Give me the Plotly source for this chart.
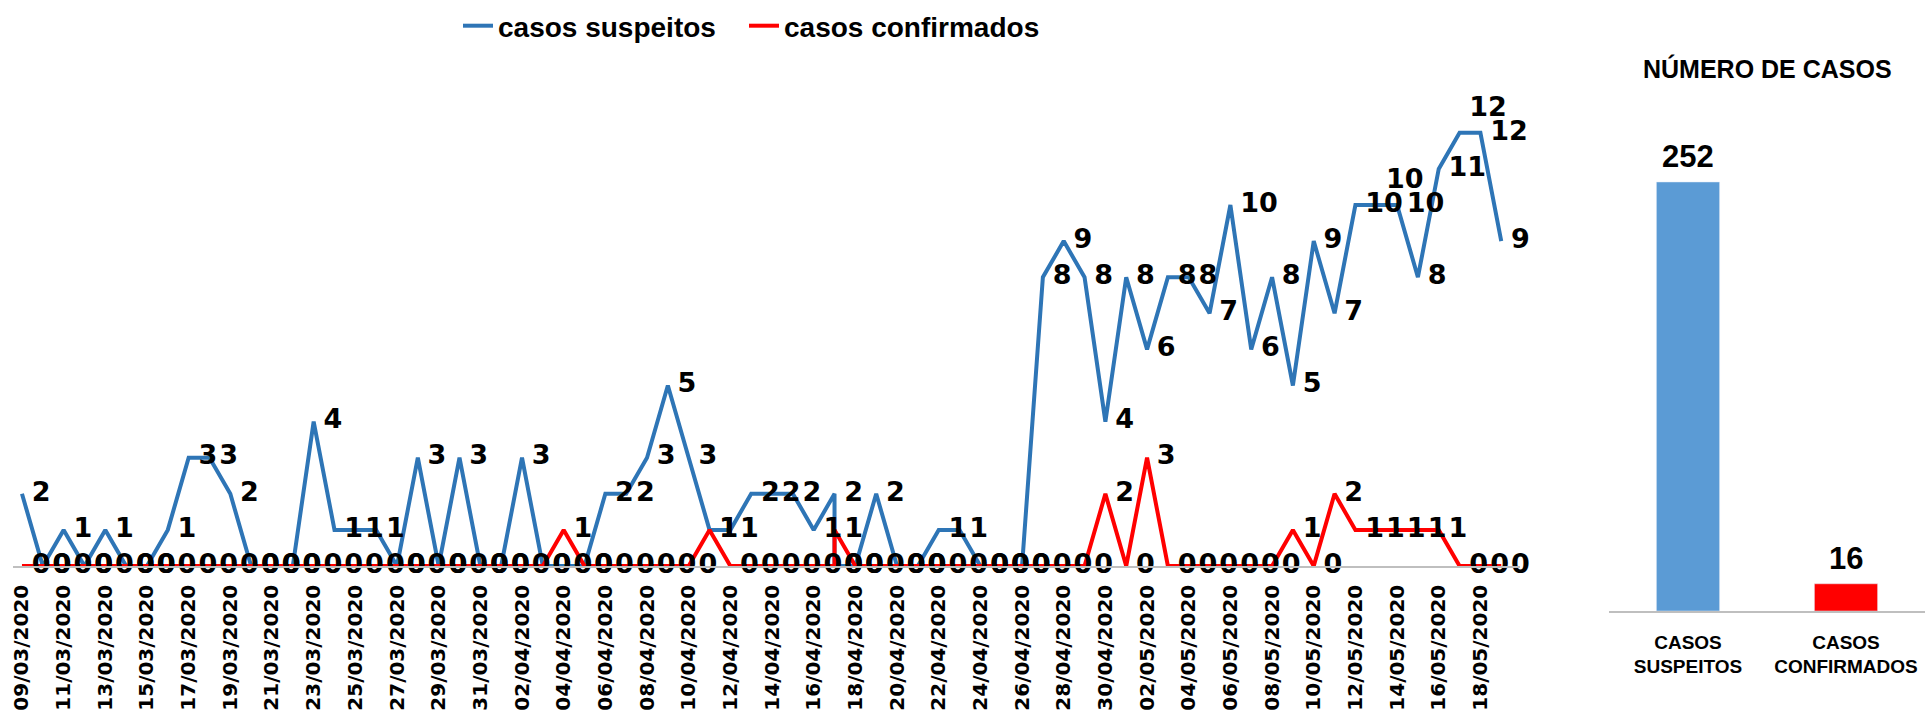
import plotly.graph_objects as go

# ---------------- data ----------------
datas = [
    "2020-03-09", "2020-03-10", "2020-03-11", "2020-03-12", "2020-03-13", "2020-03-14",
    "2020-03-15", "2020-03-16", "2020-03-17", "2020-03-18", "2020-03-19", "2020-03-20",
    "2020-03-21", "2020-03-22", "2020-03-23", "2020-03-24", "2020-03-25", "2020-03-26",
    "2020-03-27", "2020-03-28", "2020-03-29", "2020-03-30", "2020-03-31",
    "2020-04-01", "2020-04-02", "2020-04-03", "2020-04-04", "2020-04-05", "2020-04-06",
    "2020-04-07", "2020-04-08", "2020-04-09", "2020-04-10", "2020-04-11", "2020-04-12",
    "2020-04-13", "2020-04-14", "2020-04-15", "2020-04-16", "2020-04-17", "2020-04-17",
    "2020-04-18", "2020-04-19", "2020-04-20", "2020-04-21", "2020-04-22", "2020-04-23",
    "2020-04-24", "2020-04-25", "2020-04-26", "2020-04-27", "2020-04-28", "2020-04-29",
    "2020-04-30",
    "2020-05-01", "2020-05-02", "2020-05-03", "2020-05-04", "2020-05-05", "2020-05-06",
    "2020-05-07", "2020-05-08", "2020-05-09", "2020-05-10", "2020-05-11", "2020-05-12",
    "2020-05-13", "2020-05-14", "2020-05-15", "2020-05-16", "2020-05-17", "2020-05-18",
    "2020-05-19",
]

casos_suspeitos = [
    2, 0, 1, 0, 1, 0, 0, 1, 3, 3, 2, 0, 0, 0, 4, 1, 1, 1, 0, 3, 0, 3, 0, 0, 3, 0,
    0, 0, 2, 2, 3, 5, 3, 1, 1, 2, 2, 2, 1,
    2, 0,
    0, 2, 0, 0, 1, 1, 0, 0, 0,
    8, 9, 8, 4, 8, 6, 8, 8, 7, 10, 6, 8, 5, 9, 7, 10, 10, 10, 8, 11, 12, 12, 9,
]

casos_confirmados = [
    0, 0, 0, 0, 0, 0, 0, 0, 0, 0, 0, 0, 0, 0, 0, 0, 0, 0, 0, 0, 0, 0, 0, 0, 0, 0,
    1, 0, 0, 0, 0, 0, 0, 1, 0, 0, 0, 0, 0,
    0, 1,
    0, 0, 0, 0, 0, 0, 0, 0, 0,
    0, 0, 0, 2, 0, 3, 0, 0, 0, 0, 0, 0, 1, 0, 2, 1, 1, 1, 1, 1, 0, 0, 0,
]

rotulos_eixo = [
    "09/03/2020", "11/03/2020", "13/03/2020", "15/03/2020", "17/03/2020", "19/03/2020",
    "21/03/2020", "23/03/2020", "25/03/2020", "27/03/2020", "29/03/2020", "31/03/2020",
    "02/04/2020", "04/04/2020", "06/04/2020", "08/04/2020", "10/04/2020", "12/04/2020",
    "14/04/2020", "16/04/2020", "18/04/2020", "20/04/2020", "22/04/2020", "24/04/2020",
    "26/04/2020", "28/04/2020", "30/04/2020", "02/05/2020", "04/05/2020", "06/05/2020",
    "08/05/2020", "10/05/2020", "12/05/2020", "14/05/2020", "16/05/2020", "18/05/2020",
]

categorias_total = ["CASOS<br>SUSPEITOS", "CASOS<br>CONFIRMADOS"]
totais = [252, 16]

# ---------------- styling ----------------
W, H = 1927, 714
AZUL = "#2E75B6"
VERMELHO = "#FF0000"
AZUL_BARRA = "#5B9BD5"


def fx(p):
    return p / W


def fy(p):
    return 1 - p / H


tickvals = [f"{s[6:10]}-{s[3:5]}-{s[0:2]}" for s in rotulos_eixo]

pos_susp = ["middle right"] * len(casos_suspeitos)
pos_susp[66] = "top right"
pos_susp[70] = "top right"

label_font = dict(family="DejaVu Sans", size=27, color="black", weight="bold")
legend_font = dict(family="Liberation Sans", size=28, color="black", weight="bold")

fig = go.Figure()

fig.add_trace(go.Scatter(
    x=datas, y=casos_suspeitos, mode="lines", name="casos suspeitos",
    line=dict(color=AZUL, width=4), xaxis="x", yaxis="y", cliponaxis=False,
    hoverinfo="skip", legend="legend",
))
fig.add_trace(go.Scatter(
    x=datas, y=casos_confirmados, mode="lines", name="casos confirmados",
    line=dict(color=VERMELHO, width=4), xaxis="x", yaxis="y", cliponaxis=False,
    hoverinfo="skip", legend="legend2",
))
fig.add_trace(go.Scatter(
    x=datas, y=casos_suspeitos, mode="markers+text", showlegend=False,
    marker=dict(size=14, color="rgba(0,0,0,0)"),
    text=[str(v) for v in casos_suspeitos], textposition=pos_susp,
    textfont=label_font, xaxis="x", yaxis="y", cliponaxis=False, hoverinfo="skip",
))
fig.add_trace(go.Scatter(
    x=datas, y=casos_confirmados, mode="markers+text", showlegend=False,
    marker=dict(size=14, color="rgba(0,0,0,0)"),
    text=[str(v) for v in casos_confirmados], textposition="middle right",
    textfont=label_font, xaxis="x", yaxis="y", cliponaxis=False, hoverinfo="skip",
))

fig.add_trace(go.Bar(
    x=categorias_total, y=totais, marker_color=[AZUL_BARRA, VERMELHO], width=0.4,
    xaxis="x2", yaxis="y2", showlegend=False, hoverinfo="skip",
))

annotations = []
for c, v in zip(categorias_total, totais):
    annotations.append(dict(
        x=c, y=v, xref="x2", yref="y2", text=str(v), showarrow=False,
        xanchor="center", yanchor="bottom", yshift=6,
        font=dict(family="Liberation Sans", size=31, color="black", weight="bold"),
    ))
annotations.append(dict(
    x=fx(1767), y=fy(68), xref="paper", yref="paper", text="NÚMERO DE CASOS",
    showarrow=False, xanchor="center", yanchor="middle",
    font=dict(family="Liberation Sans", size=25, color="black", weight="bold"),
))

y0_px, unit_px = 566, 36.1
ytop = 14

fig.update_layout(
    width=W, height=H, autosize=False,
    margin=dict(l=0, r=0, t=0, b=0),
    paper_bgcolor="white", plot_bgcolor="rgba(0,0,0,0)",
    showlegend=True,
    legend=dict(
        orientation="h", x=fx(458), xanchor="left", y=fy(26), yanchor="middle",
        font=legend_font, itemwidth=30, bgcolor="rgba(0,0,0,0)",
    ),
    legend2=dict(
        orientation="h", x=fx(744), xanchor="left", y=fy(26), yanchor="middle",
        font=legend_font, itemwidth=30, bgcolor="rgba(0,0,0,0)",
    ),
    xaxis=dict(
        domain=[fx(13), fx(1520)], type="date",
        range=["2020-03-08 13:40", "2020-05-19 21:36"],
        tickmode="array", tickvals=tickvals, ticktext=rotulos_eixo, tickangle=-90,
        tickfont=dict(family="DejaVu Sans", size=20, color="black", weight="bold"),
        showgrid=False, zeroline=False, showline=True, linecolor="#BFBFBF", linewidth=1.5,
        ticks="", ticklabelstandoff=9, automargin=False, anchor="y",
    ),
    yaxis=dict(
        domain=[fy(y0_px), fy(y0_px - ytop * unit_px)], range=[0, ytop],
        visible=False, anchor="x", automargin=False,
    ),
    xaxis2=dict(
        domain=[fx(1609), fx(1925)], range=[-0.5, 1.5], anchor="y2",
        showline=True, linecolor="#BFBFBF", linewidth=1.5, ticks="",
        showgrid=False, zeroline=False, ticklabelstandoff=13,
        tickfont=dict(family="Liberation Sans", size=19, color="black", weight="bold"),
        automargin=False,
    ),
    yaxis2=dict(
        domain=[fy(611), fy(611 - 300 * 429 / 252)], range=[0, 300],
        visible=False, anchor="x2", automargin=False,
    ),
    annotations=annotations,
)

fig.write_html(
    "out.html",
    config={"displayModeBar": False},
    post_script="document.body.style.margin='0';document.body.style.overflow='hidden';",
)
